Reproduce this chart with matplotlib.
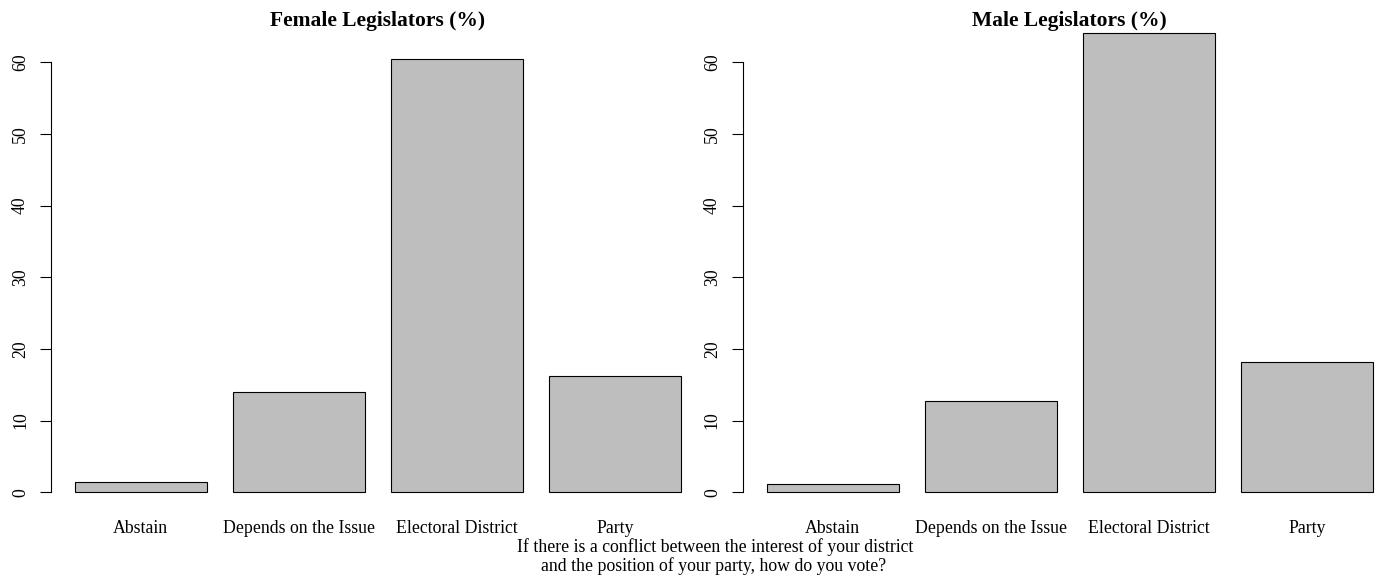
import matplotlib
matplotlib.use("Agg")
import matplotlib.pyplot as plt
import numpy as np

categories = ["Abstain", "Depends on the Issue", "Electoral District", "Party"]
female_pct = [1.48, 13.95, 60.47, 16.28]
male_pct = [1.20, 12.75, 64.09, 18.20]
panel_titles = ["Female Legislators (%)", "Male Legislators (%)"]
y_ticks = [0, 10, 20, 30, 40, 50, 60]
bottom_lines = ["If there is a conflict between the interest of your district",
                "and the position of your party, how do you vote?"]

plt.rcParams['font.family'] = ['Liberation Serif', 'DejaVu Serif']

W, H = 1379, 581
fig = plt.figure(figsize=(W / 100, H / 100), dpi=100)

# R barplot geometry: width 1, space 0.2
n = len(categories)
centers = 0.2 + 0.5 + np.arange(n) * 1.2
xlo, xhi = 0.2, 0.2 + n * 1.2 - 0.2
xpad = 0.04 * (xhi - xlo)
ymax = max(max(female_pct), max(male_pct))
ypad = 0.04 * ymax

px_per_x = 131.7
ax_w = (xhi - xlo + 2 * xpad) * px_per_x
top_px, bot_px = 14.6, 510.6
lefts = [50.8, 742.7]

def px_rect(l, t, w, b):
    return [l / W, 1 - b / H, w / W, (b - t) / H]

for i, (vals, title) in enumerate(zip([female_pct, male_pct], panel_titles)):
    ax = fig.add_axes(px_rect(lefts[i], top_px, ax_w, bot_px))
    ax.bar(centers, vals, width=1.0, color="#bebebe", edgecolor="black",
           linewidth=0.8)
    ax.set_xlim(xlo - xpad, xhi + xpad)
    ax.set_ylim(-ypad, ymax + ypad)
    for s in ["top", "right", "bottom"]:
        ax.spines[s].set_visible(False)
    ax.spines["left"].set_bounds(0, 60)
    ax.spines["left"].set_linewidth(0.8)
    ax.set_yticks(y_ticks)
    ax.set_yticklabels([str(t) for t in y_ticks], rotation=90, va="center",
                       fontsize=12.8)
    ax.tick_params(axis="y", length=7.7, width=0.8, pad=8)
    ax.set_xticks(centers)
    ax.set_xticklabels(categories, fontsize=12.8)
    ax.tick_params(axis="x", length=0, pad=6.5)
    cx = (lefts[i] + ax_w / 2) / W
    fig.text(cx, 1 - 26 / H, title, ha="center", va="baseline",
             fontsize=15.5, fontweight="bold")

fig.text(715 / W, 1 - 551.7 / H, bottom_lines[0], ha="center", va="baseline",
         fontsize=12.8)
fig.text(714 / W, 1 - 571 / H, bottom_lines[1], ha="center", va="baseline",
         fontsize=12.8)

fig.savefig("out.png", dpi=100)
